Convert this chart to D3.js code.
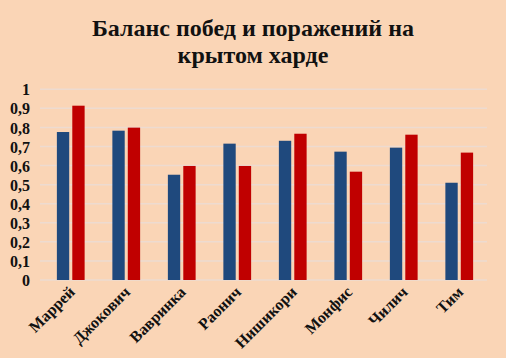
<!DOCTYPE html>
<html><head><meta charset="utf-8">
<script src="https://cdn.jsdelivr.net/npm/d3@7"></script>
<style>body{margin:0;background:#FAD5B6;}svg{display:block;}</style>
</head><body><svg id="c" width="506" height="358"></svg>
<script>
const categories = ["Маррей","Джокович","Вавринка","Раонич","Нишикори","Монфис","Чилич","Тим"];
const seriesBlue = [0.776,0.783,0.552,0.715,0.730,0.673,0.694,0.510];
const seriesRed  = [0.914,0.799,0.598,0.598,0.767,0.568,0.762,0.668];
const yTicks = [0,0.1,0.2,0.3,0.4,0.5,0.6,0.7,0.8,0.9,1];
const titleLines = ["Баланс побед и поражений на","крытом харде"];

const W=506,H=358, L=43, R=487, T=89.3, B=280;
const svg=d3.select("#c");
svg.append("rect").attr("width",W).attr("height",H).attr("fill","#FAD5B6");
const font="'Liberation Serif','Times New Roman',serif";

const y=d3.scaleLinear().domain([0,1]).range([B,T]);
const x0=d3.scaleBand().domain(categories).range([L,R]).paddingInner(0.5).paddingOuter(0.25);
const x1=d3.scaleBand().domain([0,1]).range([0,x0.bandwidth()]).paddingInner(0.2);

// gridlines
svg.append("g").selectAll("line").data(yTicks).join("line")
  .attr("x1",40).attr("x2",R).attr("y1",d=>y(d)).attr("y2",d=>y(d))
  .attr("stroke","#EDDBD0").attr("stroke-width",1.5);

// y axis labels
const fmt=d=>d===0?"0":d===1?"1":String(d).replace(".",",");
const yAxis=d3.axisLeft(y).tickValues(yTicks).tickFormat(fmt).tickSize(0).tickPadding(0);
const ya=svg.append("g").attr("transform","translate(30,0)").call(yAxis);
ya.select(".domain").remove();
ya.selectAll("text").attr("font-family",font).attr("font-weight","bold").attr("font-size",16).attr("fill","#111").attr("dy","0.35em");

// bars
const g=svg.append("g");
const series=[seriesBlue,seriesRed], colors=["#1F497D","#C00000"];
categories.forEach((c,i)=>{
  series.forEach((s,j)=>{
    g.append("rect").attr("x",x0(c)+x1(j)).attr("width",x1.bandwidth())
      .attr("y",y(s[i])).attr("height",B-y(s[i])).attr("fill",colors[j]);
  });
});

// x labels
svg.append("g").selectAll("text").data(categories).join("text")
  .attr("transform",d=>`translate(${x0(d)+x0.bandwidth()/2+5},${B+13}) rotate(-45)`)
  .attr("text-anchor","end").attr("font-family",font).attr("font-weight","bold")
  .attr("font-size",16).attr("fill","#111").text(d=>d);

// title
svg.append("g").selectAll("text").data(titleLines).join("text")
  .attr("x",253).attr("y",(d,i)=>36+i*27).attr("text-anchor","middle")
  .attr("font-family",font).attr("font-weight","bold").attr("font-size",24).attr("fill","#111").text(d=>d);
</script></body></html>
